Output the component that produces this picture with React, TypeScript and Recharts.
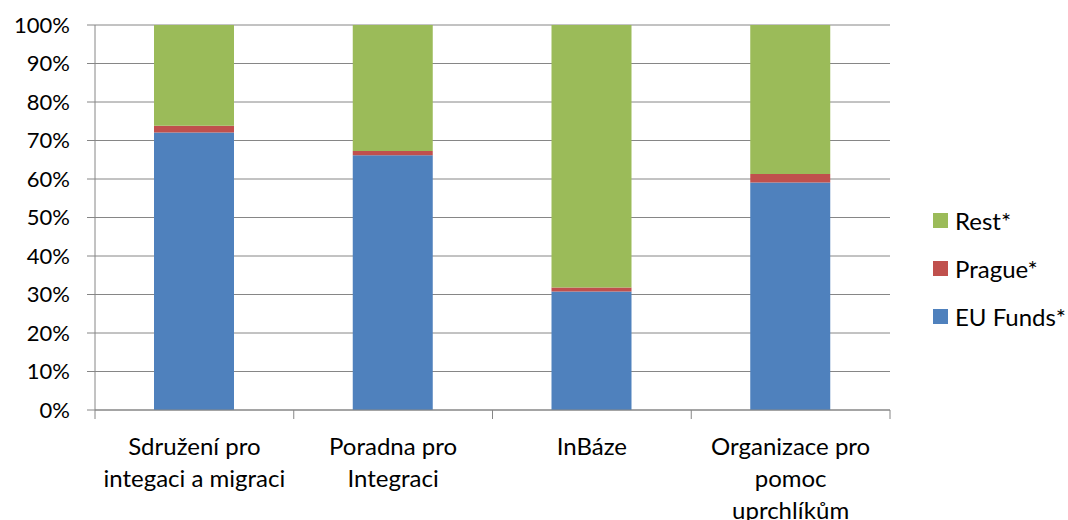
import React from 'react';
import { BarChart, Bar, XAxis, YAxis, CartesianGrid } from 'recharts';

const categories = ['Sdružení pro integaci a migraci', 'Poradna pro Integraci', 'InBáze', 'Organizace pro pomoc uprchlíkům'];
const categoryLines = [
  ['Sdružení pro', 'integaci a migraci'],
  ['Poradna pro', 'Integraci'],
  ['InBáze'],
  ['Organizace pro', 'pomoc', 'uprchlíkům'],
];
const euFunds = [72.1, 66.2, 30.8, 59.1];
const prague = [1.7, 1.1, 1.0, 2.2];
const rest = [26.2, 32.7, 68.2, 38.7];
const yTicks = [0, 10, 20, 30, 40, 50, 60, 70, 80, 90, 100];

const series = [
  { key: 'eu', name: 'EU Funds*', color: '#4F81BD', values: euFunds },
  { key: 'prague', name: 'Prague*', color: '#C0504D', values: prague },
  { key: 'rest', name: 'Rest*', color: '#9BBB59', values: rest },
];

const data = categories.map((c, i) => {
  const row: any = { name: c, idx: i };
  series.forEach((s) => (row[s.key] = s.values[i]));
  return row;
});

const FONT = 'Lato, "Open Sans", sans-serif';
const GRID = '#868686';
const TEXT = '#000000';

const XTick = (props: any) => {
  const { x, y, payload, index, visibleTicksCount, width } = props;
  const half = payload && payload.offset ? payload.offset : (width || 795) / (visibleTicksCount || 4) / 2;
  const lines = categoryLines[index] || [String(payload.value)];
  const axisY = y;
  return (
    <g>
      <line x1={x - half} x2={x - half} y1={axisY} y2={axisY + 9} stroke={GRID} strokeWidth={1} />
      {index === (visibleTicksCount || 4) - 1 && (
        <line x1={x + half} x2={x + half} y1={axisY} y2={axisY + 9} stroke={GRID} strokeWidth={1} />
      )}
      <text x={x} y={axisY} textAnchor="middle" fill={TEXT} fontSize={24} fontFamily={FONT}>
        {lines.map((l: string, i: number) => (
          <tspan key={i} x={x} dy={i === 0 ? 45 : 32}>
            {l}
          </tspan>
        ))}
      </text>
    </g>
  );
};

export default function App() {
  return (
    <div style={{ position: 'absolute', left: 0, top: 0, width: 1068, height: 520, background: '#fff' }}>
      <BarChart
        width={1068}
        height={520}
        data={data}
        margin={{ top: 25, right: 178, bottom: 0, left: 0 }}
        style={{ fontFamily: FONT }}
      >
        <CartesianGrid vertical={false} stroke={GRID} strokeWidth={1} />
        <XAxis
          dataKey="name"
          height={110}
          interval={0}
          tickLine={false}
          tickSize={0}
          tickMargin={0}
          axisLine={{ stroke: GRID, strokeWidth: 1 }}
          tick={<XTick />}
        />
        <YAxis
          width={95}
          domain={[0, 100]}
          ticks={yTicks}
          interval={0}
          tickFormatter={(v: number) => `${v}%`}
          tickSize={8}
          tickMargin={17}
          tickLine={{ stroke: GRID }}
          axisLine={{ stroke: GRID, strokeWidth: 1 }}
          tick={{ fill: TEXT, fontSize: 22, fontFamily: FONT }}
          allowDataOverflow
        />
        {series.map((s) => (
          <Bar key={s.key} dataKey={s.key} name={s.name} stackId="a" fill={s.color} barSize={80} isAnimationActive={false} />
        ))}
      </BarChart>
      <div style={{ position: 'absolute', left: 933, top: 204, fontFamily: FONT, fontSize: 24, color: TEXT }}>
        {[...series].reverse().map((s) => (
          <div key={s.key} style={{ display: 'flex', alignItems: 'center', height: 32, marginBottom: 16 }}>
            <div style={{ width: 15, height: 15, background: s.color, marginRight: 7 }} />
            <span>{s.name}</span>
          </div>
        ))}
      </div>
    </div>
  );
}
